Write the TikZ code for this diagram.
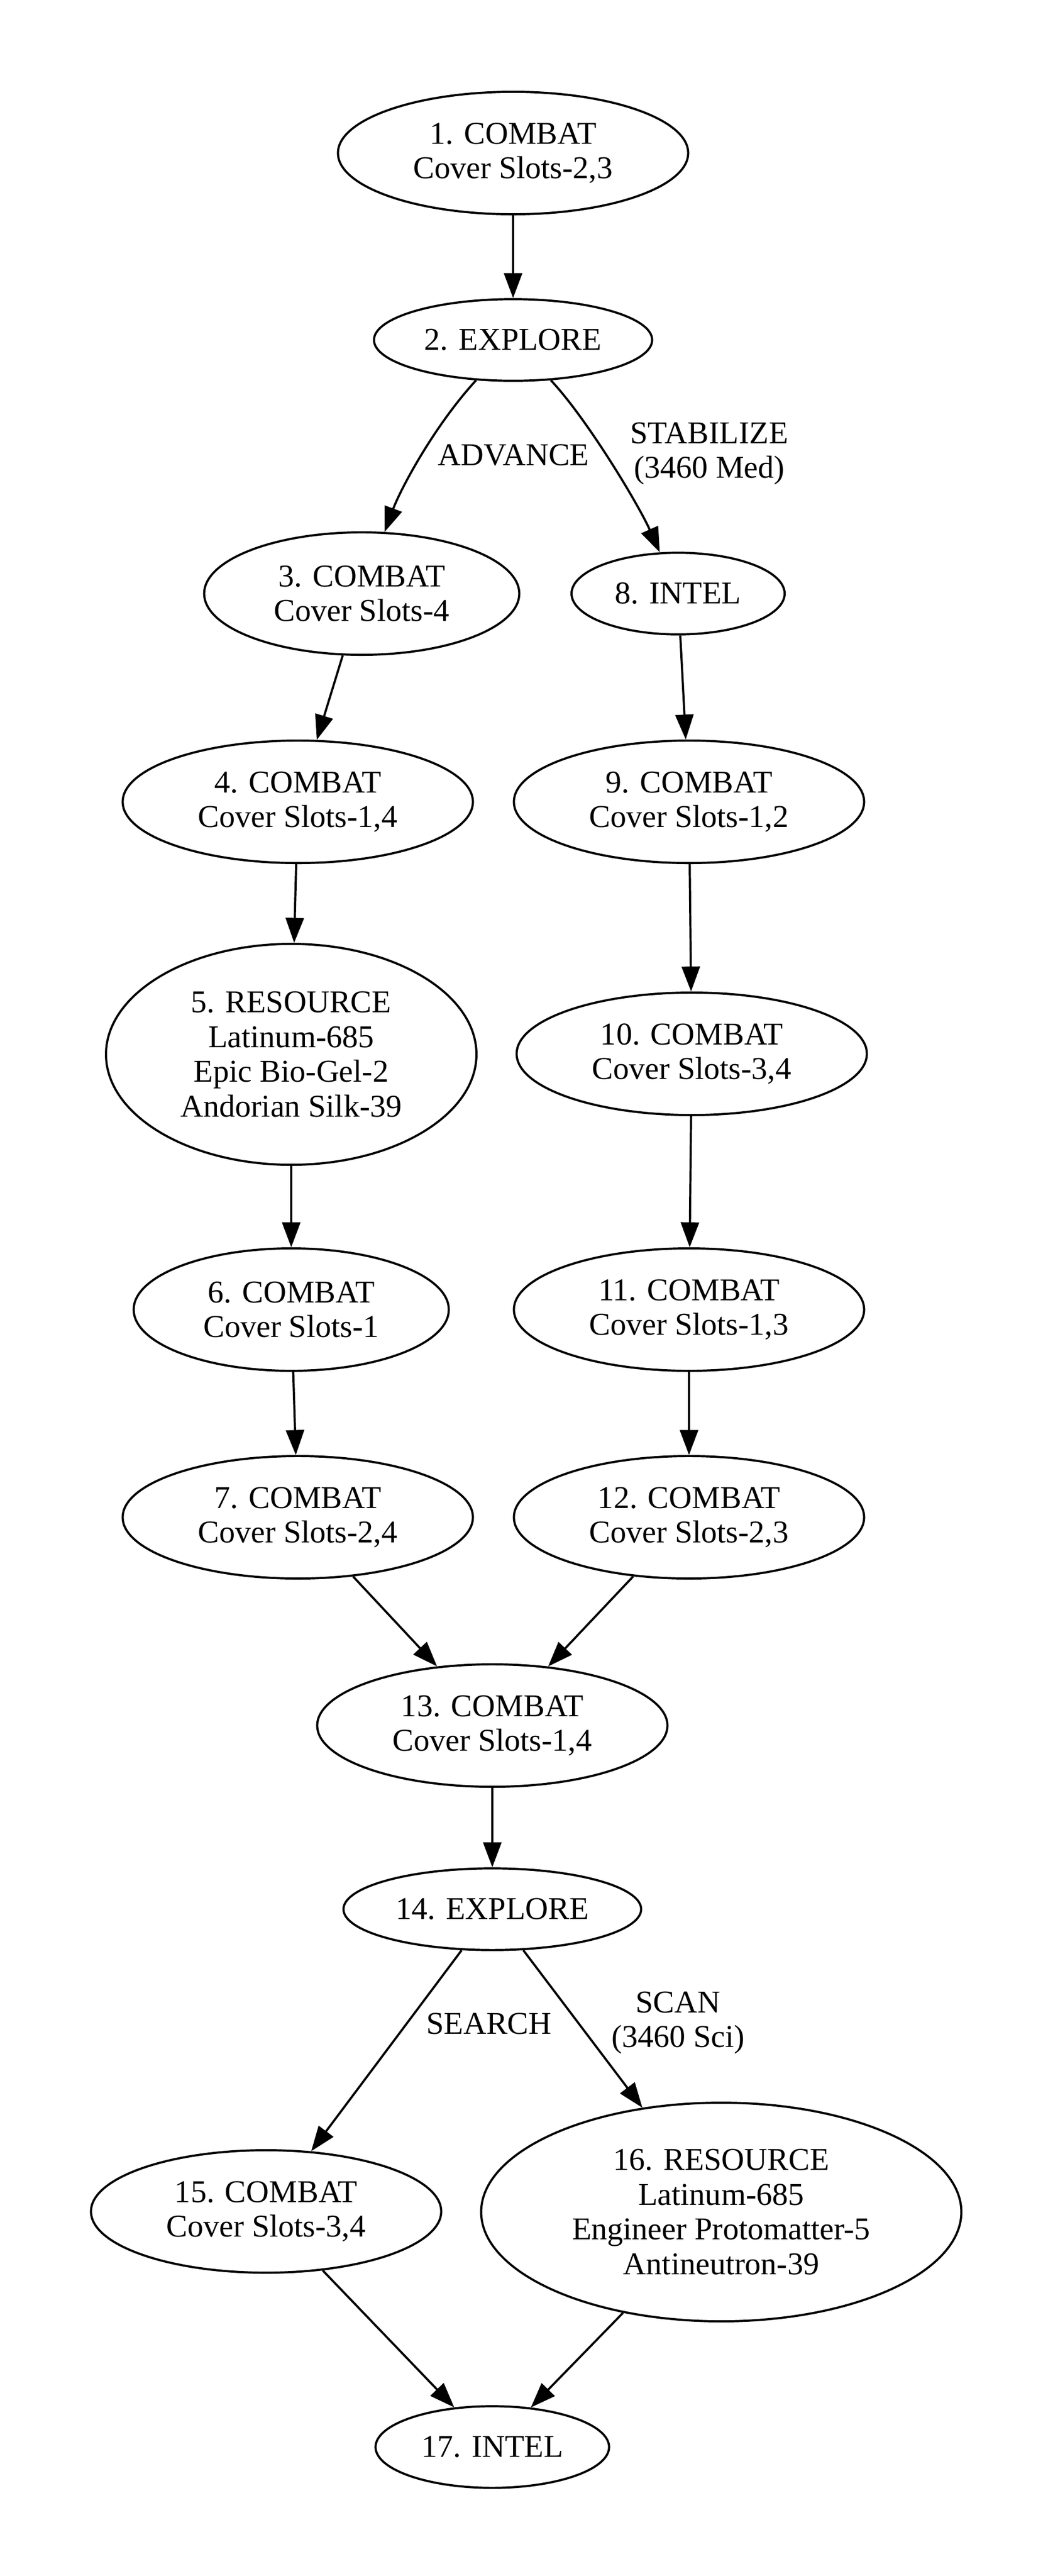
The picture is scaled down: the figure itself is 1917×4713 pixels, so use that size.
\documentclass[tikz,border=0pt]{standalone}
\usepackage{fontspec}
\setmainfont{Liberation Serif}
\usetikzlibrary{shapes,arrows.meta}

\begin{document}
\begin{tikzpicture}[x=0.241pt,y=-0.241pt]
\tikzstyle{every node}=[font=\fontsize{14}{15.3}\selectfont, align=center];
\tikzstyle{stage}=[draw, ellipse, line width=0.95pt, inner sep=0pt, minimum width=154.5pt, minimum height=54pt];
\tikzstyle{stageone}=[stage, minimum height=36pt];
\tikzstyle{link}=[-{Triangle[length=11pt,width=8pt]}, line width=0.95pt];
\useasboundingbox (0,0) rectangle (1917,4713);

  \node[stage] (a) at (939,280) {1. COMBAT\\Cover Slots-2,3};
  \node[stageone, minimum width=122.7pt] (b) at (939,622) {2. EXPLORE};
  \node[stage, minimum width=139pt] (c) at (662,1086) {3. COMBAT\\Cover Slots-4};
  \node[stage] (d) at (545,1467) {4. COMBAT\\Cover Slots-1,4};
  \node[stage, minimum width=163.4pt, minimum height=97.4pt] (e) at (533,1929) {5. RESOURCE\\Latinum-685\\Epic Bio-Gel-2\\Andorian Silk-39};
  \node[stage, minimum width=139pt] (f) at (533,2396) {6. COMBAT\\Cover Slots-1};
  \node[stage] (g) at (545,2776) {7. COMBAT\\Cover Slots-2,4};
  \node[stageone, minimum width=94pt] (h) at (1241,1086) {8. INTEL};
  \node[stage] (i) at (1261,1467) {9. COMBAT\\Cover Slots-1,2};
  \node[stage] (j) at (1266,1928) {10. COMBAT\\Cover Slots-3,4};
  \node[stage] (k) at (1261,2396) {11. COMBAT\\Cover Slots-1,3};
  \node[stage] (l) at (1261,2776) {12. COMBAT\\Cover Slots-2,3};
  \node[stage] (m) at (901,3157) {13. COMBAT\\Cover Slots-1,4};
  \node[stageone, minimum width=131.3pt] (n) at (901,3493) {14. EXPLORE};
  \node[stage] (o) at (487,4046) {15. COMBAT\\Cover Slots-3,4};
  \node[stage, minimum width=211.8pt, minimum height=96.4pt] (p) at (1320,4047) {16. RESOURCE\\Latinum-685\\Engineer Protomatter-5\\Antineutron-39};
  \node[stageone, minimum width=103pt] (q) at (901,4477) {17. INTEL};

  \node (adv) at (940,833) {ADVANCE};
  \node (stab) at (1298,830) {STABILIZE\\(3460 Med)};
  \node (srch) at (895,3703) {SEARCH};
  \node (scan) at (1241,3701) {SCAN\\(3460 Sci)};

  \foreach \from/\to in {a/b, c/d, d/e, e/f, f/g, g/m, h/i, i/j, j/k, k/l, l/m, m/n, n/o, n/p, o/q, p/q}
\draw [link] (\from) -- (\to);
  \draw [link] (b) .. controls (794,780) and (733,895) .. (c);
  \draw [link] (b) .. controls (1075,767) and (1169,924) .. (h);

\end{tikzpicture}
\end{document}
